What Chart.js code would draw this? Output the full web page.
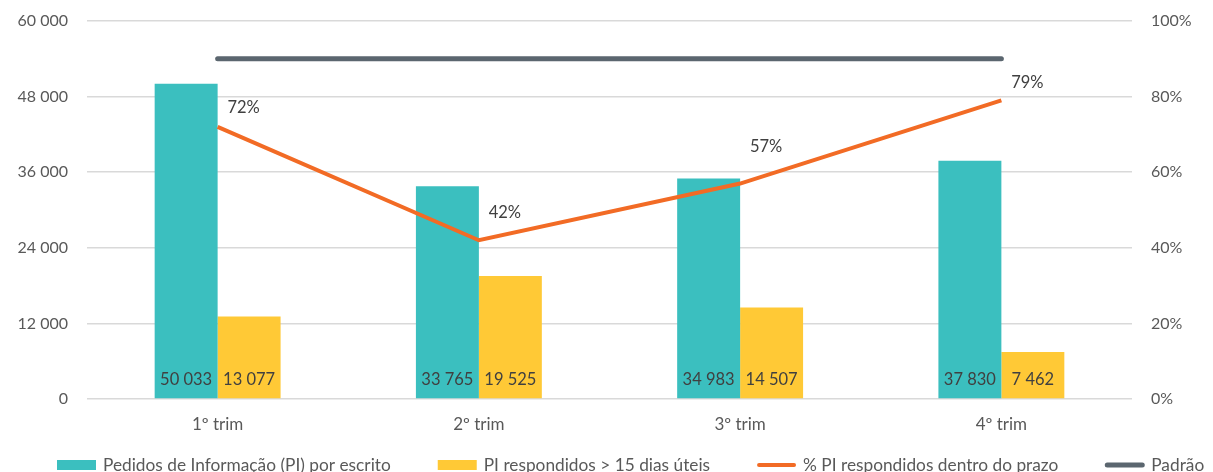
<!DOCTYPE html>
<html>
<head>
<meta charset="utf-8">
<script src="https://cdn.jsdelivr.net/npm/chart.js@4.4.1/dist/chart.umd.min.js"></script>
<style>
  html, body { margin: 0; padding: 0; background: #fff; overflow: hidden; }
  #wrap { position: relative; width: 1213px; height: 472px; }
</style>
</head>
<body>
<div id="wrap"><canvas id="chart"></canvas></div>
<script>
const trimestres = ['1º trim', '2º trim', '3º trim', '4º trim'];
const pedidosEscrito = [50033, 33765, 34983, 37830];
const respondidosForaPrazo = [13077, 19525, 14507, 7462];
const pctDentroPrazo = [72, 42, 57, 79];
const padrao = [90, 90, 90, 90];
const ticksEsq = [0, 12000, 24000, 36000, 48000, 60000];
const ticksDir = [0, 20, 40, 60, 80, 100];

const FONTE = 'Lato';
const fmtMilhar = (n) => String(n).replace(/\B(?=(\d{3})+(?!\d))/g, ' ');

/* ---------- Value labels (bar bases + line points) ---------- */
const rotulos = {
  id: 'rotulos',
  afterDatasetsDraw(chart, args, opts) {
    const ctx = chart.ctx;
    ctx.save();
    ctx.font = `16.5px ${FONTE}`;
    ctx.fillStyle = '#404040';
    ctx.textAlign = 'center';
    ctx.textBaseline = 'middle';
    chart.data.datasets.forEach((ds, i) => {
      const meta = chart.getDatasetMeta(i);
      if (ds.rotulo === 'base') {
        meta.data.forEach((bar, j) => ctx.fillText(fmtMilhar(ds.data[j]), bar.x, bar.base - 19));
      } else if (ds.rotulo === 'ponto') {
        meta.data.forEach((pt, j) => ctx.fillText(ds.data[j] + '%', pt.x + opts.dx, pt.y + opts.dy[j]));
      }
    });
    ctx.restore();
  }
};

/* ---------- Legend row along the bottom edge ---------- */
const legenda = {
  id: 'legenda',
  afterDraw(chart, args, opts) {
    const ctx = chart.ctx;
    ctx.save();
    ctx.font = `17.3px ${FONTE}`;
    ctx.textBaseline = 'middle';
    let x = opts.x;
    const y = opts.y;
    chart.data.datasets.forEach(ds => {
      if (ds.type === 'line') {
        ctx.strokeStyle = ds.borderColor;
        ctx.lineWidth = ds.borderWidth;
        ctx.lineCap = 'round';
        ctx.beginPath();
        ctx.moveTo(x + 2, y);
        ctx.lineTo(x + opts.box - 2, y);
        ctx.stroke();
      } else {
        ctx.fillStyle = ds.backgroundColor;
        ctx.fillRect(x, y - 5, opts.box, 10);
      }
      ctx.fillStyle = '#595959';
      ctx.fillText(ds.label, x + opts.box + opts.textGap, y);
      x += opts.box + opts.textGap + ctx.measureText(ds.label).width + opts.gap;
    });
    ctx.restore();
  }
};

// vertical axes: fixed width, no extra top/bottom padding from tick labels
const eixoFixo = (largura) => (s) => {
  s.width = largura;
  s.paddingTop = 0;
  s.paddingBottom = 0;
};

new Chart(document.getElementById('chart'), {
  data: {
    labels: trimestres,
    datasets: [
      {
        type: 'bar', label: 'Pedidos de Informação (PI) por escrito', data: pedidosEscrito,
        backgroundColor: '#3BBFBF', yAxisID: 'y', order: 2, rotulo: 'base',
        barPercentage: 1, categoryPercentage: 0.482
      },
      {
        type: 'bar', label: 'PI respondidos > 15 dias úteis', data: respondidosForaPrazo,
        backgroundColor: '#FFC936', yAxisID: 'y', order: 2, rotulo: 'base',
        barPercentage: 1, categoryPercentage: 0.482
      },
      {
        type: 'line', label: '% PI respondidos dentro do prazo', data: pctDentroPrazo,
        borderColor: '#F26B25', backgroundColor: '#F26B25', borderWidth: 4,
        pointRadius: 0, tension: 0, yAxisID: 'y1', order: 1, rotulo: 'ponto'
      },
      {
        type: 'line', label: 'Padrão', data: padrao,
        borderColor: '#5B666F', backgroundColor: '#5B666F', borderWidth: 5,
        borderCapStyle: 'round', pointRadius: 0, tension: 0, yAxisID: 'y1', order: 1
      }
    ]
  },
  options: {
    responsive: true,
    maintainAspectRatio: false,
    animation: false,
    layout: { padding: { top: 21, left: 0, right: 0, bottom: 27 } },
    plugins: {
      tooltip: { enabled: false },
      legend: { display: false },
      rotulos: { dx: 26, dy: [-19, -28, -37, -18] },
      legenda: { x: 57, y: 465, box: 39, textGap: 7, gap: 47 }
    },
    scales: {
      x: {
        grid: { display: false },
        border: { display: false },
        ticks: { color: '#595959', font: { family: FONTE, size: 17 }, padding: 7 },
        afterFit: (s) => { s.height = 46; }
      },
      y: {
        position: 'left',
        min: 0, max: 60000,
        afterBuildTicks: (s) => { s.ticks = ticksEsq.map(v => ({ value: v })); },
        grid: { color: '#D9D9D9', lineWidth: 1.5, drawTicks: false },
        border: { display: false },
        ticks: { color: '#595959', font: { family: FONTE, size: 16 }, padding: 19, callback: (v) => fmtMilhar(v) },
        afterFit: eixoFixo(87)
      },
      y1: {
        position: 'right',
        min: 0, max: 100,
        afterBuildTicks: (s) => { s.ticks = ticksDir.map(v => ({ value: v })); },
        grid: { display: false, drawTicks: false },
        border: { display: false },
        ticks: { color: '#595959', font: { family: FONTE, size: 16 }, padding: 19, callback: (v) => v + '%' },
        afterFit: eixoFixo(81)
      }
    }
  },
  plugins: [rotulos, legenda]
});
</script>
</body>
</html>
